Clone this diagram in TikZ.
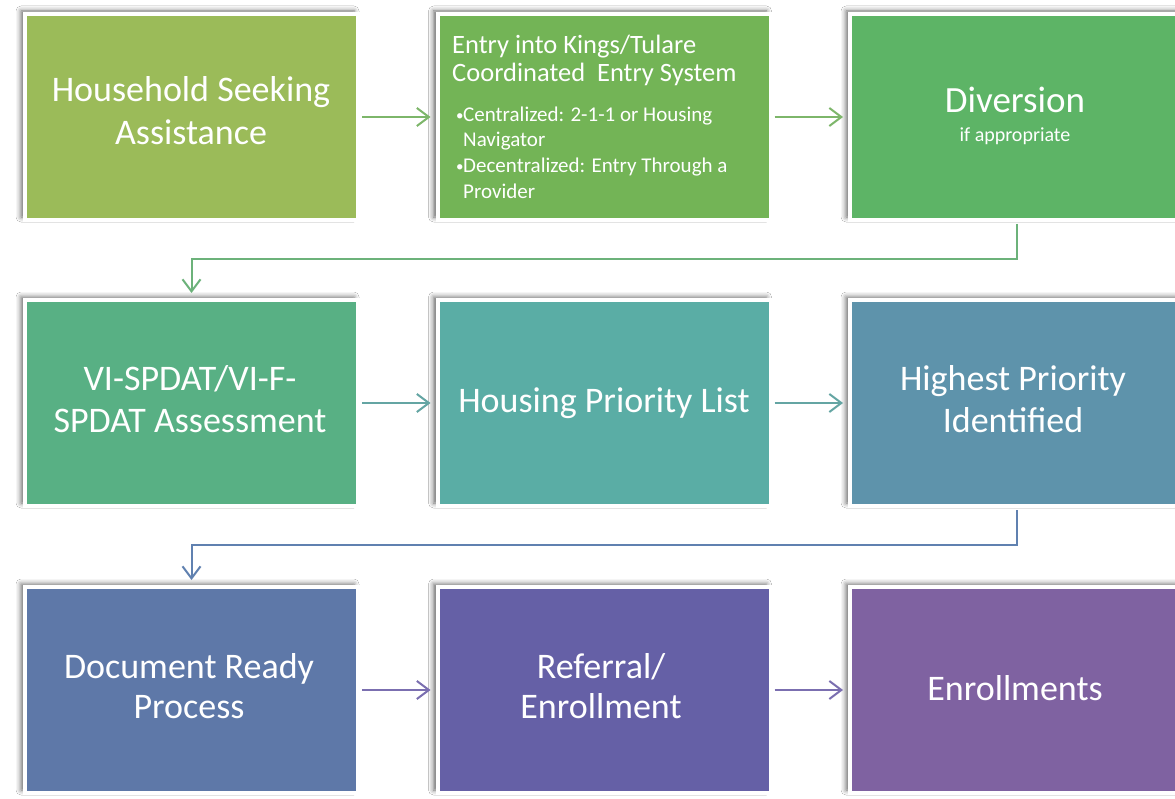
\documentclass[tikz,border=0pt]{standalone}
\usepackage{fontspec}
\setmainfont{Carlito}
\usetikzlibrary{arrows.meta,shadows.blur}
\definecolor{cA}{HTML}{9BBB59}
\definecolor{cB}{HTML}{73B456}
\definecolor{cC}{HTML}{5DB466}
\definecolor{cD}{HTML}{58B084}
\definecolor{cE}{HTML}{5AADA5}
\definecolor{cF}{HTML}{5E93AB}
\definecolor{cG}{HTML}{5E78A8}
\definecolor{cH}{HTML}{6560A6}
\definecolor{cI}{HTML}{7F62A1}
\definecolor{aA}{HTML}{7DB66A}
\definecolor{aB}{HTML}{6CB27A}
\definecolor{aC}{HTML}{64A5A3}
\definecolor{aD}{HTML}{6081B0}
\definecolor{aE}{HTML}{7B6FB0}
\begin{document}
\begin{tikzpicture}[x=1pt,y=-1pt,
  box/.style={rectangle, minimum width=333pt, minimum height=206pt, inner sep=0pt,
    draw=white, line width=4pt,
    blur shadow={shadow xshift=-4pt, shadow yshift=3pt, shadow blur radius=5pt, shadow opacity=60}},
  bigtxt/.style={text=white, font=\fontsize{36}{42}\selectfont, anchor=base, inner sep=0pt},
  midtxt/.style={text=white, font=\fontsize{26.5}{30}\selectfont, anchor=base west, inner sep=0pt},
  smalltxt/.style={text=white, font=\fontsize{21}{24}\selectfont, anchor=base west, inner sep=0pt},
  subtxt/.style={text=white, font=\fontsize{20}{24}\selectfont, anchor=base, inner sep=0pt},
  flow/.style={line width=2pt, -{Straight Barb[length=12pt,width=18pt,line width=2pt]}, shorten >=5pt, shorten <=2pt}]
\useasboundingbox (0,0) rectangle (1175,799);
\fill[white] (0,0) rectangle (1175,799);

% boxes
\node[box, fill=cA] (b1) at (191.5,117) {};
\node[box, fill=cB] (b2) at (604,117) {};
\node[box, fill=cC] (b3) at (1016.5,117) {};
\node[box, fill=cD] (b4) at (191.5,403) {};
\node[box, fill=cE] (b5) at (604,403) {};
\node[box, fill=cF] (b6) at (1016.5,403) {};
\node[box, fill=cG] (b7) at (191.5,690) {};
\node[box, fill=cH] (b8) at (604,690) {};
\node[box, fill=cI] (b9) at (1016.5,690) {};

% texts
\node[bigtxt] (t1a) at (191,102) {Household Seeking};
\node[bigtxt] (t1b) at (191,145) {Assistance};

\node[midtxt] (t2a) at (452,54) {Entry into Kings/Tulare};
\node[midtxt] (t2b) at (452,82) {Coordinated\hspace{0.45em}Entry System};
\node[smalltxt, font=\fontsize{15}{18}\selectfont] (bu1) at (456,121) {\textbullet};
\node[smalltxt] (t2c) at (463,122) {Centralized: 2-1-1 or Housing};
\node[smalltxt] (t2d) at (463,147) {Navigator};
\node[smalltxt, font=\fontsize{15}{18}\selectfont] (bu2) at (456,172) {\textbullet};
\node[smalltxt] (t2e) at (463,173) {Decentralized: Entry Through a};
\node[smalltxt] (t2f) at (463,199) {Provider};

\node[bigtxt, font=\fontsize{37}{42}\selectfont] (t3a) at (1015,113) {Diversion};
\node[subtxt] (t3b) at (1015,142) {if appropriate};

\node[bigtxt] (t4a) at (190,390) {VI-SPDAT/VI-F-};
\node[bigtxt] (t4b) at (190,432) {SPDAT Assessment};

\node[bigtxt] (t5a) at (604,412) {Housing Priority List};

\node[bigtxt] (t6a) at (1013,390) {Highest Priority};
\node[bigtxt] (t6b) at (1013,432) {Identified};

\node[bigtxt] (t7a) at (189,678) {Document Ready};
\node[bigtxt] (t7b) at (189,718) {Process};

\node[bigtxt] (t8a) at (601,678) {Referral/};
\node[bigtxt] (t8b) at (601,718) {Enrollment};

\node[bigtxt] (t9a) at (1015,700) {Enrollments};

% connectors
\draw[flow, aA] (b1) -- (b2);
\draw[flow, aA] (b2) -- (b3);
\draw[flow, aB] (b3.south) -- ++(0,37) -| (b4.north);
\draw[flow, aC] (b4) -- (b5);
\draw[flow, aC] (b5) -- (b6);
\draw[flow, aD] (b6.south) -- ++(0,37) -| (b7.north);
\draw[flow, aE] (b7) -- (b8);
\draw[flow, aE] (b8) -- (b9);
\end{tikzpicture}
\end{document}
